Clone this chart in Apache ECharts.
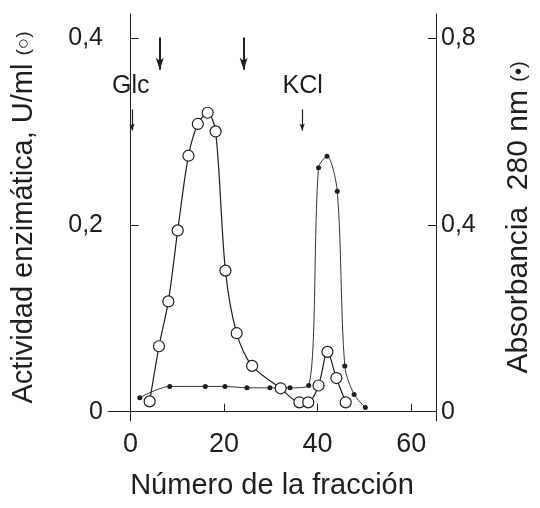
<!DOCTYPE html>
<html>
<head>
<meta charset="utf-8">
<script src="https://cdn.jsdelivr.net/npm/echarts@6/dist/echarts.min.js"></script>
<style>
html,body{margin:0;padding:0;background:#fff;}
#chart{width:540px;height:508px;}
</style>
</head>
<body>
<div id="chart"></div>
<script>
// Enzyme activity (open circles, left axis, U/ml)
const fractionsAct = [4.1, 6.1, 8.1, 10.1, 12.4, 14.4, 16.5, 18.2, 20.3, 22.7, 26.0, 32.1, 36.1, 38.0, 40.2, 42.1, 44.0, 46.0];
const activity     = [0.011, 0.070, 0.118, 0.194, 0.274, 0.308, 0.320, 0.300, 0.151, 0.084, 0.049, 0.025, 0.010, 0.010, 0.028, 0.064, 0.036, 0.010];
// Absorbance 280 nm (filled dots, right axis)
const fractionsAbs = [2.0, 8.4, 16.0, 20.2, 24.9, 29.8, 34.1, 38.1, 40.2, 42.0, 44.2, 45.8, 47.8, 50.2];
const absorbance   = [0.030, 0.054, 0.054, 0.054, 0.051, 0.051, 0.051, 0.056, 0.522, 0.547, 0.472, 0.098, 0.037, 0.009];
// Tick labels
const xTicks = [0, 20, 40, 60];
const yLeftTicks = [0, 0.2, 0.4];
const yRightTicks = [0, 0.4, 0.8];
// Annotations (fraction positions)
const bigArrows = [6.26, 24.2];
const labels = [{name: 'Glc', x: 0.06}, {name: 'KCl', x: 36.8}];
const smallArrows = [0.34, 36.7];

const FONT = 'Liberation Sans, Arial, Helvetica, sans-serif';
const INK = '#1e1e1e';
const comma = v => String(v).replace('.', ',');

const chart = echarts.init(document.getElementById('chart'), null, {renderer: 'canvas'});

const arrowLines = [];
bigArrows.forEach(x => arrowLines.push([
  {coord: [x, 0.4005], symbol: 'none', lineStyle: {width: 2, color: INK, type: 'solid'}},
  {coord: [x, 0.366], symbol: 'arrow', symbolSize: [6, 12]}
]));
smallArrows.forEach(x => arrowLines.push([
  {coord: [x, 0.3235], symbol: 'none', lineStyle: {width: 1.2, color: INK, type: 'solid'}},
  {coord: [x, 0.301], symbol: 'arrow', symbolSize: [4, 7]}
]));

const option = {
  backgroundColor: '#fff',
  animation: false,
  grid: {left: 108, right: 104, top: 14, bottom: 87, containLabel: false, outerBoundsMode: 'none'},
  xAxis: {
    type: 'value', min: -4.8, max: 65.3,
    name: 'Número de la fracción', nameLocation: 'middle', nameGap: 50,
    nameTextStyle: {fontFamily: FONT, fontSize: 29, color: INK},
    axisLine: {show: true, lineStyle: {color: INK, width: 1}},
    axisTick: {show: true, inside: true, length: 8, customValues: xTicks, lineStyle: {color: INK}},
    axisLabel: {customValues: xTicks, margin: 10, fontFamily: FONT, fontSize: 27, color: INK},
    splitLine: {show: false}
  },
  yAxis: [{
    type: 'value', min: -0.01, max: 0.4257, position: 'left',
    name: '{a|Actividad enzimática, U/ml} {b|(○)}', nameLocation: 'middle', nameGap: 70, nameRotate: 90,
    nameTextStyle: {fontFamily: FONT, fontSize: 29, color: INK,
      rich: {a: {fontFamily: FONT, fontSize: 29, color: INK}, b: {fontFamily: FONT, fontSize: 19, color: INK}}},
    axisLine: {show: true, lineStyle: {color: INK, width: 1}},
    axisTick: {show: true, inside: true, length: 8, customValues: yLeftTicks, lineStyle: {color: INK}},
    axisLabel: {customValues: yLeftTicks, margin: 5, fontFamily: FONT, fontSize: 25, color: INK, formatter: comma},
    splitLine: {show: false}
  }, {
    type: 'value', min: -0.02, max: 0.8514, position: 'right',
    name: '{a|Absorbancia  280 nm} {b|(•)}', nameLocation: 'middle', nameGap: 68, nameRotate: 90,
    nameTextStyle: {fontFamily: FONT, fontSize: 30, color: INK,
      rich: {a: {fontFamily: FONT, fontSize: 30, color: INK}, b: {fontFamily: FONT, fontSize: 20, color: INK}}},
    axisLine: {show: true, lineStyle: {color: INK, width: 1}},
    axisTick: {show: true, inside: true, length: 8, customValues: yRightTicks, lineStyle: {color: INK}},
    axisLabel: {customValues: yRightTicks, margin: 5, fontFamily: FONT, fontSize: 25, color: INK, formatter: comma},
    splitLine: {show: false}
  }],
  series: [{
    name: 'Absorbancia', type: 'line', yAxisIndex: 1, smooth: 0.3,
    data: fractionsAbs.map((x, i) => [x, absorbance[i]]),
    symbol: 'circle', symbolSize: 5,
    itemStyle: {color: INK},
    lineStyle: {color: '#333', width: 1},
    z: 2
  }, {
    name: 'Actividad', type: 'line', yAxisIndex: 0, smooth: 0.3,
    data: fractionsAct.map((x, i) => [x, activity[i]]),
    symbol: 'circle', symbolSize: 11, showAllSymbol: true,
    itemStyle: {color: '#fff', borderColor: INK, borderWidth: 1.2},
    lineStyle: {color: INK, width: 1.2},
    z: 3,
    markLine: {
      silent: true, animation: false,
      label: {show: false},
      lineStyle: {type: 'solid', color: INK},
      data: arrowLines
    },
    markPoint: {
      silent: true, animation: false,
      symbol: 'circle', symbolSize: 0,
      label: {show: true, position: 'inside', formatter: '{b}', fontFamily: FONT, fontSize: 25, color: INK},
      data: labels.map(l => ({name: l.name, coord: [l.x, 0.349]}))
    }
  }]
};
chart.setOption(option);
</script>
</body>
</html>
